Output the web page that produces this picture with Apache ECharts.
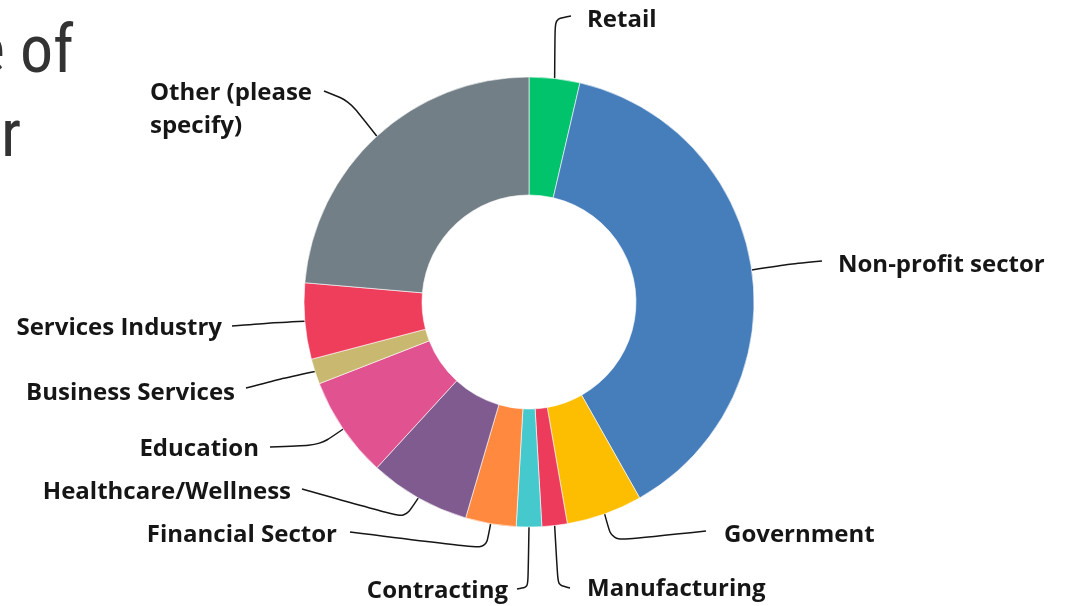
<!DOCTYPE html>
<html>
<head>
<meta charset="utf-8">
<script src="https://cdn.jsdelivr.net/npm/echarts@6/dist/echarts.min.js"></script>
<style>
  html, body { margin: 0; padding: 0; background: #ffffff; }
  #chart { width: 1065px; height: 606px; }
</style>
</head>
<body>
<div id="chart"></div>
<script>
// Respondent counts by sector, clockwise from 12 o'clock
const sectors = [
  'Retail', 'Non-profit sector', 'Government', 'Manufacturing', 'Contracting',
  'Financial Sector', 'Healthcare/Wellness', 'Education', 'Business Services',
  'Services Industry', 'Other (please specify)'
];
const counts = [2, 21, 3, 1, 1, 2, 4, 4, 1, 3, 13];
const sliceColors = [
  '#00c36b', '#467dbb', '#fdbd00', '#ed3b5b', '#45c9cc',
  '#ff8a3f', '#805b8f', '#e05290', '#c9b870', '#ee3e5c', '#727f86'
];

// Callout guides: elbow point, line end, text anchor and text alignment
const callouts = [
  { elbow: [555, 19], end: [571, 16], text: [587, 20], align: 'left' },
  { elbow: [790, 264], end: [822, 261], text: [838, 265], align: 'left' },
  { elbow: [612, 541], end: [706, 531], text: [724, 535], align: 'left' },
  { elbow: [558, 585], end: [570, 588], text: [587, 589], align: 'left' },
  { elbow: [528, 587], end: [517, 589], text: [508, 591], align: 'right' },
  { elbow: [486, 549], end: [350, 532], text: [337, 535], align: 'right' },
  { elbow: [405, 518], end: [302, 489], text: [291, 492], align: 'right' },
  { elbow: [320, 445], end: [270, 447], text: [259, 449], align: 'right' },
  { elbow: [280, 379], end: [246, 388], text: [235, 393], align: 'right' },
  { elbow: [268, 323], end: [232, 326], text: [222, 328], align: 'right' },
  { elbow: [349, 101], end: [324, 91], text: [150, 110], align: 'left' }
];

const chart = echarts.init(document.getElementById('chart'));

const pieData = sectors.map((name, i) => {
  const item = { name: name, value: counts[i], itemStyle: { color: sliceColors[i] } };
  if (name === 'Other (please specify)') {
    item.label = { width: 180, overflow: 'break' };
  }
  return item;
});

const titleFont = '400 66px "Liberation Sans Narrow", "Roboto Condensed", Roboto, sans-serif';

chart.setOption({
  animation: false,
  backgroundColor: '#ffffff',
  graphic: [
    {
      type: 'text', x: 74, y: 55,
      style: {
        text: 'Type of', align: 'right', verticalAlign: 'middle',
        font: titleFont, fill: '#333333'
      }
    },
    {
      type: 'text', x: 21, y: 139,
      style: {
        text: 'sector', align: 'right', verticalAlign: 'middle',
        font: titleFont, fill: '#333333'
      }
    }
  ],
  series: [{
    type: 'pie',
    center: [529, 302],
    radius: [107, 225],
    startAngle: 90,
    clockwise: true,
    avoidLabelOverlap: false,
    itemStyle: { borderColor: '#ffffff', borderWidth: 0.6 },
    emphasis: { disabled: true },
    label: {
      show: true,
      position: 'outside',
      color: '#161616',
      fontFamily: '"Open Sans"',
      fontWeight: 'bold',
      fontSize: 24,
      lineHeight: 33
    },
    labelLine: {
      show: true,
      smooth: 0.25,
      lineStyle: { color: '#161616', width: 1.5 }
    },
    labelLayout: function (params) {
      const c = callouts[params.dataIndex];
      const start = params.labelLinePoints ? params.labelLinePoints[0] : c.elbow;
      return {
        x: c.text[0],
        y: c.text[1],
        align: c.align,
        verticalAlign: 'middle',
        labelLinePoints: [start, c.elbow, c.end]
      };
    },
    data: pieData
  }]
});
</script>
</body>
</html>
